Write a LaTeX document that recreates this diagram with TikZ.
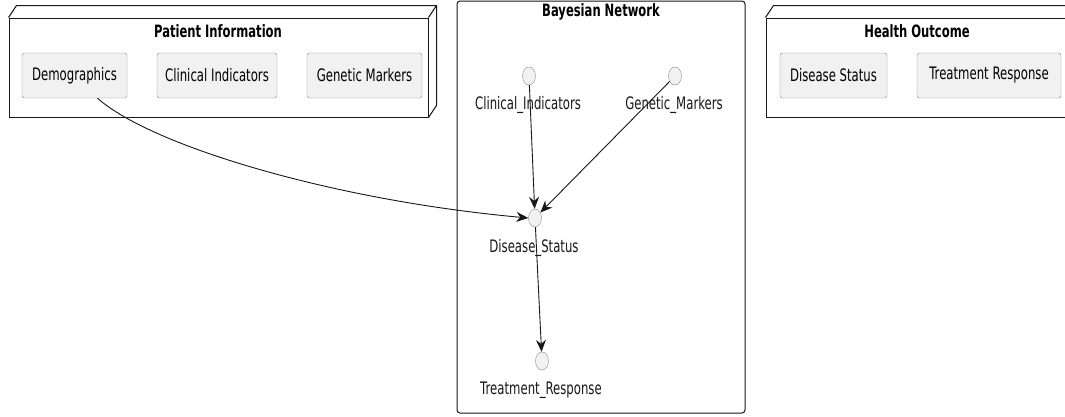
\documentclass[tikz,border=0pt]{standalone}
\usepackage{fontspec}
\setmainfont{DejaVu Sans}[FakeStretch=0.68]
\usepackage{tikz}
\usepackage{xcolor}
\usetikzlibrary{arrows.meta,positioning,calc,shapes.geometric}
\definecolor{Ink}{HTML}{181818}
\definecolor{Pale}{HTML}{F1F1F1}
\definecolor{Edge}{HTML}{8C8C8C}
\newcommand{\deepbox}[1]{
  \draw[Ink, line width=1pt] (#1.north west) -- ++(8,-12) -- ([shift={(8,-12)}]#1.north east)
    -- ([shift={(8,-12)}]#1.south east) -- (#1.south east);
  \draw[Ink, line width=1pt] (#1.north east) -- ++(8,-12);
}

\begin{document}
\begin{tikzpicture}[x=1pt, y=-1pt,
    frame/.style={draw=Ink, line width=1pt, fill=white, inner sep=0pt},
    item/.style={draw=Edge, fill=Pale, rounded corners=2.5pt, minimum height=45pt, inner sep=0pt, font=\fontsize{17.2}{20}\selectfont},
    title/.style={font=\fontsize{17}{20}\selectfont\bfseries},
    dot/.style={ellipse, draw=Edge, fill=Pale, minimum width=13pt, minimum height=18pt, inner sep=0pt},
    tag/.style={font=\fontsize{17.2}{20}\selectfont, text=Ink},
    arr/.style={-{Stealth[length=12pt, width=10pt, inset=4pt]}, draw=Ink, line width=0.9pt}
  ]
    \useasboundingbox (0,0) rectangle (1065,416);
    % patient side
    \node[frame, minimum width=419pt, minimum height=99pt] (pi) at (218.5,67.5) {};
    \deepbox{pi}
    \node[title] (pit) at (218,31) {Patient Information};
    \node[item, minimum width=105pt] (demo) at (74.5,75.5) {Demographics};
    \node[item, minimum width=120pt] (clin) at (217,75.5) {Clinical Indicators};
    \node[item, minimum width=115pt] (gene) at (364.5,75.5) {Genetic Markers};
    % network
    \node[frame, rounded corners=3pt, minimum width=288pt, minimum height=412pt] (bn) at (601,207) {};
    \node[title] (bnt) at (601,12) {Bayesian Network};
    \node[dot] (ci) at (529,76) {};
    \node[dot] (gm) at (675,76) {};
    \node[dot] (ds) at (535,218) {};
    \node[dot] (tr) at (542,361) {};
    \node[tag] (cil) at (528,105) {Clinical\_Indicators};
    \node[tag] (gml) at (674,105) {Genetic\_Markers};
    \node[tag] (dsl) at (534,248) {Disease\_Status};
    \node[tag] (trl) at (541,390) {Treatment\_Response};
    % outcome side
    \node[frame, minimum width=302pt, minimum height=99pt] (ho) at (917,67.5) {};
    \deepbox{ho}
    \node[title] (hot) at (917,31) {Health Outcome};
    \node[item, minimum width=107pt] (dis) at (833.5,75.5) {Disease Status};
    \node[item, minimum width=144pt] (resp) at (989,75.5) {Treatment Response};
    % links
    \draw[arr] ([xshift=23pt]demo.south) .. controls (150,145) and (330,200) .. (ds.west);
    \draw[arr] (ci) -- (ds);
    \draw[arr] (gm) -- (ds);
    \draw[arr] (ds) -- (tr);
\end{tikzpicture}
\end{document}
